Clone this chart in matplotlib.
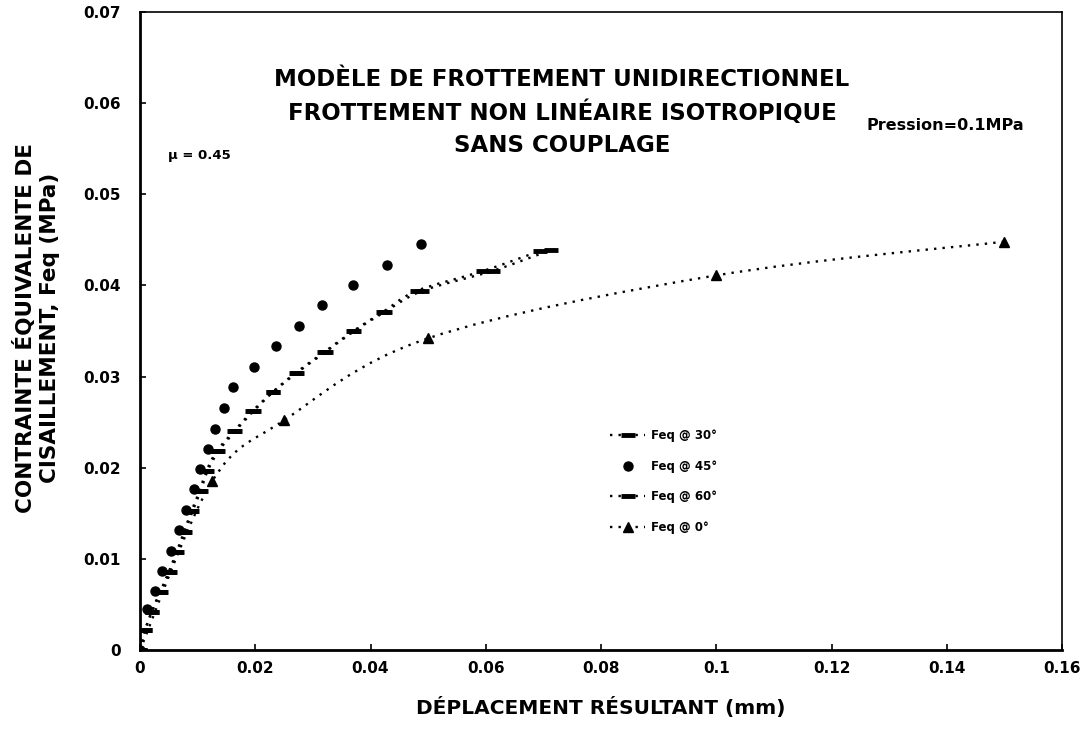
import numpy as np
from matplotlib import pyplot as plt
from matplotlib.path import Path
from matplotlib.patches import PathPatch
from matplotlib.lines import Line2D

plt.rcParams['font.family'] = 'DejaVu Sans'
plt.rcParams['font.weight'] = 'bold'
plt.rcParams['axes.labelweight'] = 'bold'

# Feq @ 45 deg (markers only)
x45 = [0, 0.0012, 0.0026, 0.0039, 0.0053, 0.0067, 0.0079, 0.0093, 0.0104, 0.0118,
       0.0131, 0.0146, 0.0162, 0.0197, 0.0236, 0.0276, 0.0316, 0.0369, 0.0428, 0.0488]
y45 = [0, 0.0045, 0.0065, 0.0087, 0.0109, 0.0132, 0.0154, 0.0177, 0.0199, 0.0221,
       0.0243, 0.0266, 0.0289, 0.0310, 0.0333, 0.0355, 0.0378, 0.0401, 0.0422, 0.0446]

# Feq @ 30 deg
x30 = [0, 0.0009, 0.0020, 0.0035, 0.0050, 0.0063, 0.0076, 0.0089, 0.0103, 0.0115,
       0.0133, 0.0163, 0.0195, 0.0230, 0.0270, 0.0320, 0.0370, 0.0422, 0.0480, 0.0596, 0.0695]
y30 = [0, 0.0022, 0.0042, 0.0064, 0.0086, 0.0107, 0.0129, 0.0152, 0.0174, 0.0196,
       0.0218, 0.0240, 0.0262, 0.0283, 0.0304, 0.0327, 0.0350, 0.0371, 0.0394, 0.0416, 0.0438]

# Feq @ 60 deg
x60 = [0, 0.0009, 0.0021, 0.0036, 0.0052, 0.0065, 0.0078, 0.0091, 0.0105, 0.0117,
       0.0136, 0.0165, 0.0197, 0.0231, 0.0272, 0.0322, 0.0372, 0.0425, 0.0490, 0.0612, 0.0714]
y60 = [0, 0.0022, 0.0042, 0.0064, 0.0086, 0.0107, 0.0129, 0.0152, 0.0174, 0.0196,
       0.0218, 0.0240, 0.0262, 0.0283, 0.0304, 0.0327, 0.0350, 0.0371, 0.0394, 0.0416, 0.0439]

# Feq @ 0 deg
x0 = [0, 0.0125, 0.025, 0.05, 0.1, 0.15]
y0 = [0, 0.0185, 0.0252, 0.0342, 0.0411, 0.0448]

xticks = [0, 0.02, 0.04, 0.06, 0.08, 0.1, 0.12, 0.14, 0.16]
xticklabels = ['0', '0.02', '0.04', '0.06', '0.08', '0.1', '0.12', '0.14', '0.16']
yticks = [0, 0.01, 0.02, 0.03, 0.04, 0.05, 0.06, 0.07]
yticklabels = ['0', '0.01', '0.02', '0.03', '0.04', '0.05', '0.06', '0.07']

DOT = (0, (1, 2.6))


def smooth_line(ax, x, y, **kwargs):
    # Excel-like smoothed line: cubic bezier through the points
    p = np.column_stack([x, y]).astype(float)
    n = len(p)
    verts = [p[0]]
    codes = [Path.MOVETO]
    for i in range(n - 1):
        prev = p[i - 1] if i > 0 else p[i]
        nxt = p[i + 2] if i + 2 < n else p[i + 1]
        c1 = p[i] + (p[i + 1] - prev) / 6
        c2 = p[i + 1] - (nxt - p[i]) / 6
        verts += [c1, c2, p[i + 1]]
        codes += [Path.CURVE4] * 3
    ax.add_patch(PathPatch(Path(verts, codes), fill=False, **kwargs))


fig = plt.figure(figsize=(10.89, 7.34), dpi=100)
ax = fig.add_axes([140 / 1089, 1 - 650 / 734, 922 / 1089, 638 / 734])

smooth_line(ax, x30, y30, lw=1.7, ls=DOT, color='black')
smooth_line(ax, x60, y60, lw=1.7, ls=DOT, color='black')
smooth_line(ax, x0, y0, lw=1.7, ls=DOT, color='black')

ax.plot(x30, y30, ls='none', marker='_', ms=10, mew=3.5, color='black')
ax.plot(x45, y45, ls='none', marker='o', ms=6.5, color='black')
ax.plot(x60, y60, ls='none', marker='_', ms=10, mew=3.5, color='black')
ax.plot(x0, y0, ls='none', marker='^', ms=7, color='black')

ax.set_xlim(0, 0.16)
ax.set_ylim(0, 0.07)
ax.set_xticks(xticks)
ax.set_xticklabels(xticklabels)
ax.set_yticks(yticks)
ax.set_yticklabels(yticklabels)
ax.tick_params(direction='in', length=4, width=1.2, labelsize=11, pad=8)
ax.tick_params(axis='y', pad=14)
for s in ax.spines.values():
    s.set_linewidth(1.2)
ax.spines[['left', 'bottom']].set_linewidth(2)

ax.set_xlabel('DÉPLACEMENT RÉSULTANT (mm)', fontsize=14.5, labelpad=15)
fig.text(25 / 1089, 1 - 328 / 734, 'CONTRAINTE ÉQUIVALENTE DE', rotation=90,
         ha='center', va='center', fontsize=15.5)
fig.text(50 / 1089, 1 - 328 / 734, 'CISAILLEMENT, Feq (MPa)', rotation=90,
         ha='center', va='center', fontsize=15.5)

fig.text(562 / 1089, 1 - 80 / 734, 'MODÈLE DE FROTTEMENT UNIDIRECTIONNEL',
         ha='center', va='center', fontsize=16.5)
fig.text(562 / 1089, 1 - 113 / 734, 'FROTTEMENT NON LINÉAIRE ISOTROPIQUE',
         ha='center', va='center', fontsize=16.5)
fig.text(562 / 1089, 1 - 146 / 734, 'SANS COUPLAGE',
         ha='center', va='center', fontsize=16.5)
fig.text(168 / 1089, 1 - 155 / 734, 'µ = 0.45', ha='left', va='center', fontsize=9.5)
fig.text(866 / 1089, 1 - 125 / 734, 'Pression=0.1MPa', ha='left', va='center', fontsize=11.5)

handles = [
    Line2D([], [], ls=DOT, lw=1.7, marker='_', ms=10, mew=3.5, color='black'),
    Line2D([], [], ls='none', marker='o', ms=6.5, color='black'),
    Line2D([], [], ls=DOT, lw=1.7, marker='_', ms=10, mew=3.5, color='black'),
    Line2D([], [], ls=DOT, lw=1.7, marker='^', ms=7, color='black'),
]
labels = ['Feq @ 30°', 'Feq @ 45°', 'Feq @ 60°', 'Feq @ 0°']
fig.legend(handles, labels, loc='upper left', bbox_to_anchor=(610 / 1089, 1 - 429 / 734),
           frameon=False, fontsize=8.5, handlelength=3.0, handletextpad=0.5,
           labelspacing=1.5, borderpad=0, borderaxespad=0)

fig.savefig('out.png', dpi=100)
